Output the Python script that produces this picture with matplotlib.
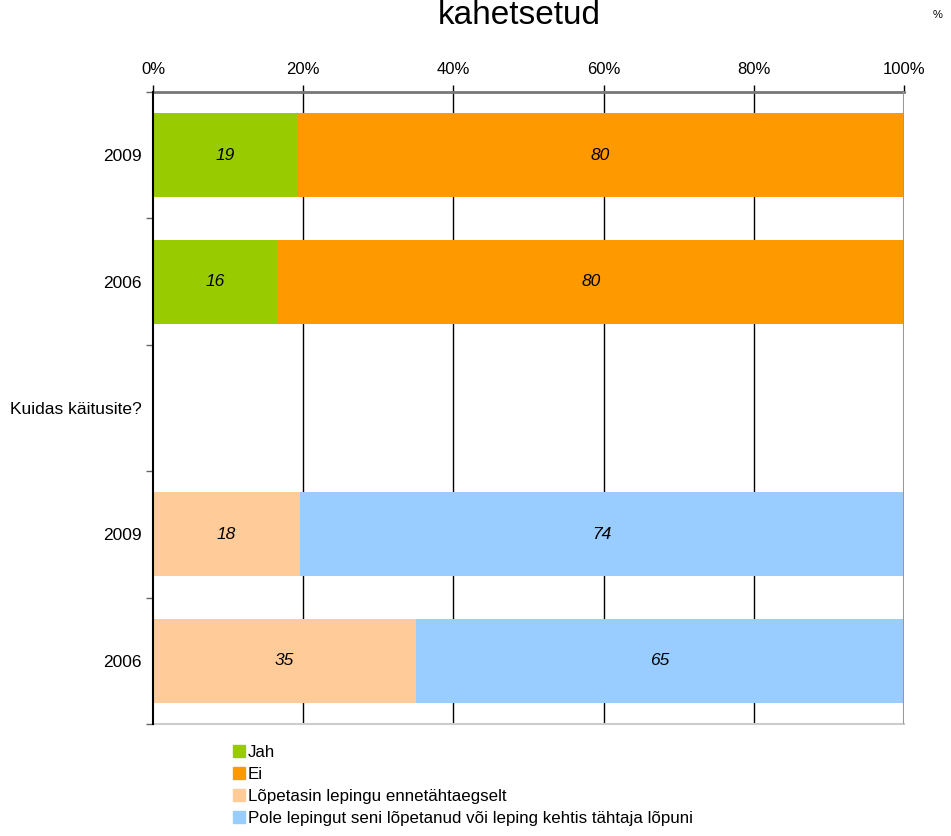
#plot 100% stacked horizontal bars, two questions, years 2009 and 2006
import numpy as np
import matplotlib.pyplot as plt
from matplotlib.patches import Patch

plt.rcParams['font.family'] = ['Liberation Sans', 'DejaVu Sans']

#=====================data===============
ylabels = ["2009", "2006", "Kuidas käitusite?", "2009", "2006"]
jah = [19, 16]
ei = [80, 80]
lopetasin = [18, 35]
pole = [74, 65]
leg_names = ["Jah", "Ei", "Lõpetasin lepingu ennetähtaegselt",
             "Pole lepingut seni lõpetanud või leping kehtis tähtaja lõpuni"]
colors = ['#99CC00', '#FF9900', '#FFCC99', '#99CCFF']

#====================plot=======================
fig = plt.figure(figsize=(9.51, 8.36), dpi=100)
ax = fig.add_axes([153/951, 112/836, 751/951, 632/836])

def stack(ax, pos, a, b, ca, cb):
    a = np.array(a, dtype=float)
    b = np.array(b, dtype=float)
    tot = a + b
    pa = a / tot * 100
    pb = b / tot * 100
    ax.barh(pos, pa, height=0.665, color=ca, zorder=3)
    ax.barh(pos, pb, left=pa, height=0.665, color=cb, zorder=3)
    for i in range(len(pos)):
        ax.text(pa[i]/2, pos[i], str(int(a[i])), ha='center', va='center',
                fontsize=12.5, style='italic', zorder=4)
        ax.text(pa[i] + pb[i]/2, pos[i], str(int(b[i])), ha='center', va='center',
                fontsize=12.5, style='italic', zorder=4)

stack(ax, [0, 1], jah, ei, colors[0], colors[1])
stack(ax, [3, 4], lopetasin, pole, colors[2], colors[3])

ax.set_xlim(0, 100)
ax.set_ylim(4.5, -0.5)

#x axis on top
ax.xaxis.tick_top()
ax.set_xticks(np.arange(0, 101, 20))
ax.set_xticklabels([str(v) + '%' for v in range(0, 101, 20)], fontsize=12)
ax.tick_params(axis='x', length=5, width=1, color='black', pad=6)
for v in range(20, 100, 20):
    ax.axvline(v, color='black', linewidth=1, zorder=1)
ax.axvline(100, color='#999999', linewidth=1.5, zorder=5)

#y axis: labels at centers, ticks at borders
ax.set_yticks(range(5))
ax.set_yticklabels(ylabels, fontsize=12.5)
ax.tick_params(axis='y', which='major', length=0, pad=8)
ax.set_yticks(np.arange(-0.5, 5, 1), minor=True)
ax.tick_params(axis='y', which='minor', length=5, width=1, color='#666666')

ax.spines['top'].set_color('#777777')
ax.spines['top'].set_linewidth(2)
ax.spines['bottom'].set_color('#cccccc')
ax.spines['bottom'].set_linewidth(1.5)
ax.spines['right'].set_visible(False)
ax.spines['left'].set_color('black')
ax.spines['left'].set_linewidth(1.5)
ax.spines['left'].set_zorder(6)

fig.text(519/951, 1 - 24/836, 'kahetsetud', ha='center', va='baseline', fontsize=24)
fig.text(938/951, 1 - 15/836, '%', ha='center', va='center', fontsize=8)

handles = [Patch(color=c) for c in colors]
fig.legend(handles, leg_names, loc='upper left', bbox_to_anchor=(226/951, 1 - 738/836),
           frameon=False, fontsize=12.2, handlelength=0.7, handleheight=0.7,
           handletextpad=0.2, labelspacing=0.42, borderaxespad=0)

plt.savefig('out.png', dpi=100)
